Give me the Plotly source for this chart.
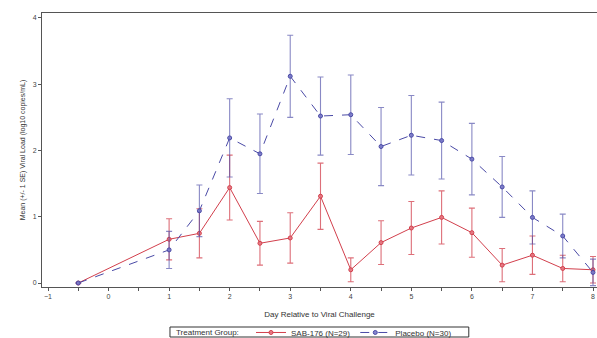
import plotly.graph_objects as go

days = [-0.5, 1, 1.5, 2, 2.5, 3, 3.5, 4, 4.5, 5, 5.5, 6, 6.5, 7, 7.5, 8]

sab_mean = [0.0, 0.66, 0.75, 1.44, 0.60, 0.68, 1.31, 0.20, 0.61, 0.83, 0.99, 0.76, 0.27, 0.42, 0.22, 0.20]
sab_se   = [0.0, 0.31, 0.37, 0.49, 0.33, 0.38, 0.50, 0.18, 0.33, 0.40, 0.40, 0.37, 0.25, 0.29, 0.20, 0.20]

pbo_mean = [0.0, 0.50, 1.09, 2.19, 1.95, 3.12, 2.52, 2.54, 2.06, 2.23, 2.15, 1.87, 1.45, 0.99, 0.71, 0.16]
pbo_se   = [0.0, 0.28, 0.39, 0.59, 0.60, 0.62, 0.59, 0.60, 0.59, 0.60, 0.58, 0.54, 0.46, 0.40, 0.33, 0.20]

legend_title = "Treatment Group:"

red = "#d23f4c"
blue = "#4a4aa6"

fig = go.Figure()
fig.add_trace(go.Scatter(
    x=days, y=sab_mean, name="SAB-176 (N=29)", mode="lines+markers",
    line=dict(color=red, width=1),
    marker=dict(symbol="circle", size=4, color="rgba(230,120,130,0.9)", line=dict(color=red, width=1)),
    error_y=dict(type="data", array=sab_se, visible=True, color="rgba(210,63,76,0.75)", thickness=1.1, width=3),
))
fig.add_trace(go.Scatter(
    x=days, y=pbo_mean, name="Placebo (N=30)", mode="lines+markers",
    line=dict(color=blue, width=1, dash="dash"),
    marker=dict(symbol="circle", size=4, color="rgba(120,120,200,0.9)", line=dict(color=blue, width=1)),
    error_y=dict(type="data", array=pbo_se, visible=True, color="rgba(74,74,166,0.65)", thickness=1.1, width=3),
))

axis_font = dict(family="Liberation Sans, Arial, sans-serif", size=7, color="#444")

fig.update_layout(
    width=597, height=338,
    margin=dict(l=42, r=0, t=13, b=51, autoexpand=False),
    paper_bgcolor="white", plot_bgcolor="white",
    font=dict(family="Liberation Sans, Arial, sans-serif", size=7, color="#333"),
    showlegend=True,
    legend=dict(
        orientation="h", x=0.3766, xanchor="left", y=-0.166, yanchor="middle",
        bgcolor="rgba(0,0,0,0)", borderwidth=0, font=dict(size=8, color="#333"),
        itemwidth=30, tracegroupgap=0, valign="middle",
    ),
    shapes=[dict(type="rect", xref="paper", yref="paper",
                 x0=0.2306, x1=0.769, y0=-0.1825, y1=-0.146,
                 line=dict(color="#333", width=1), fillcolor="rgba(0,0,0,0)", layer="below")],
    annotations=[dict(text=legend_title, xref="paper", yref="paper", x=0.238, y=-0.166,
                      xanchor="left", yanchor="middle", showarrow=False,
                      font=dict(size=8, color="#333"))],
    xaxis=dict(
        range=[-1.099, 8.066], tickmode="array",
        tickvals=[-1, 0, 1, 2, 3, 4, 5, 6, 7, 8],
        ticks="outside", ticklen=3, tickcolor="#555", tickfont=axis_font,
        minor=dict(tickvals=[-0.5, 0.5, 1.5, 2.5, 3.5, 4.5, 5.5, 6.5, 7.5], ticks="outside", ticklen=3, tickcolor="#555"),
        showgrid=False, zeroline=False, showline=True, linecolor="#555", linewidth=1, mirror=True,
        automargin=False,
        title=dict(text="Day Relative to Viral Challenge", font=dict(size=8, color="#333"), standoff=11),
    ),
    yaxis=dict(
        range=[-0.06, 4.075], tickvals=[0, 1, 2, 3, 4],
        ticks="outside", ticklen=3, tickcolor="#555", tickfont=axis_font,
        showgrid=False, zeroline=False, showline=True, linecolor="#555", linewidth=1, mirror=True,
        automargin=False,
        title=dict(text="Mean (+/- 1 SE) Viral Load (log10 copies/mL)", font=dict(size=7, color="#333"), standoff=6),
    ),
)

fig.write_html("out.html", config={"displayModeBar": False},
               post_script="document.body.style.margin='0';document.body.style.overflow='hidden';")
